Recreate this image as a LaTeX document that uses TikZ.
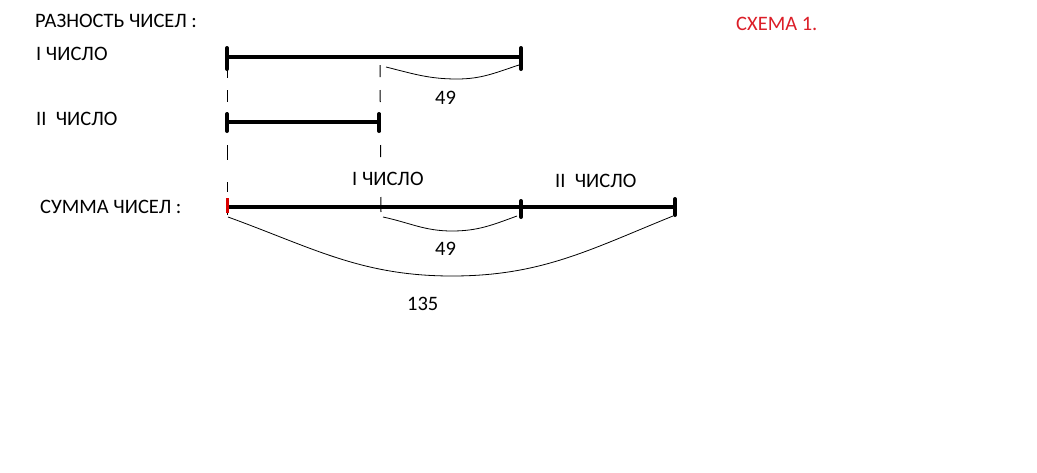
\documentclass[tikz,border=0pt]{standalone}
\usepackage{fontspec}
\setmainfont{Carlito}
\begin{document}
\begin{tikzpicture}[x=1pt,y=-1pt,
  lbl/.style={anchor=base west,inner sep=0pt,font=\fontsize{20.5}{23}\selectfont},
  seg/.style={line width=4.5pt},
  tick/.style={line width=4pt,line cap=round},
  guide/.style={line width=1pt},
  arc/.style={line width=0.8pt}]
\useasboundingbox[fill=white] (0,0) rectangle (1037,472);
% labels
\node[lbl] (tdiff) at (35,27) {РАЗНОСТЬ ЧИСЕЛ :};
\node[lbl] (tone) at (36,60) {I ЧИСЛО};
\node[lbl] (ttwo) at (36,125) {II\ \ ЧИСЛО};
\node[lbl] (tsum) at (40,213) {СУММА ЧИСЕЛ :};
\node[lbl,text={rgb,255:red,220;green,30;blue,40}] (tscheme) at (736,30) {СХЕМА 1.};
% coordinates
\coordinate (a1) at (227,57);
\coordinate (b1) at (521,57);
\coordinate (a2) at (227,122);
\coordinate (b2) at (379,122);
\coordinate (a3) at (227,207);
\coordinate (m3) at (521,207);
\coordinate (b3) at (675,207);
% dashed guides
\coordinate (g1) at (227,68);
\coordinate (g1e) at (227,215);
\coordinate (g2) at (380,65);
\coordinate (g2e) at (381,212);
\draw[guide,dash pattern=on 10pt off 12pt on 12pt off 10pt on 18pt off 15pt on 15pt off 22pt on 10pt off 8pt on 15pt off 5pt] (g1) -- (g1e);
\draw[guide,dash pattern=on 12pt off 13pt on 12pt off 11pt on 19pt off 13pt on 12pt off 40pt on 15pt off 5pt] (g2) -- (g2e);
% segments
\draw[seg] (a1) -- (b1);
\draw[seg] (a2) -- (b2);
\draw[seg] (a3) -- (b3);
% ticks
\draw[tick] ([yshift=-12pt]a1) -- ([yshift=9pt]a1);
\draw[tick] ([yshift=-12pt]b1) -- ([yshift=9pt]b1);
\draw[tick] ([yshift=-9pt]a2) -- ([yshift=8pt]a2);
\draw[tick] ([yshift=-9pt]b2) -- ([yshift=8pt]b2);
\draw[line width=3pt,red!85!black] ([yshift=-6pt]a3) -- ([yshift=9pt]a3);
\draw[tick] ([yshift=-10pt]m3) -- ([yshift=6pt]m3);
\draw[tick] ([yshift=-8pt]b3) -- ([yshift=8pt]b3);
% braces
\coordinate (c1s) at (386,67);
\coordinate (c1m) at (457,79);
\coordinate (c1e) at (519,65);
\draw[arc] (c1s) to[out=-14,in=180] (c1m) to[out=0,in=-162] (c1e);
\node[lbl] (n49a) at (435,104) {49};
\coordinate (c2s) at (383,217);
\coordinate (c2m) at (452,231);
\coordinate (c2e) at (517,216);
\draw[arc] (c2s) to[out=-12,in=180] (c2m) to[out=0,in=-160] (c2e);
\node[lbl] (n49b) at (435,255) {49};
\coordinate (c3s) at (228,217);
\coordinate (c3m) at (452,276);
\coordinate (c3e) at (673,216);
\draw[arc] (c3s) to[out=-20,in=180] (c3m) to[out=0,in=-158] (c3e);
\node[lbl] (n135) at (407,310) {135};
% sum labels
\node[lbl] (tsone) at (352,185) {I ЧИСЛО};
\node[lbl] (tstwo) at (555,187) {II\ \ ЧИСЛО};
\end{tikzpicture}
\end{document}
